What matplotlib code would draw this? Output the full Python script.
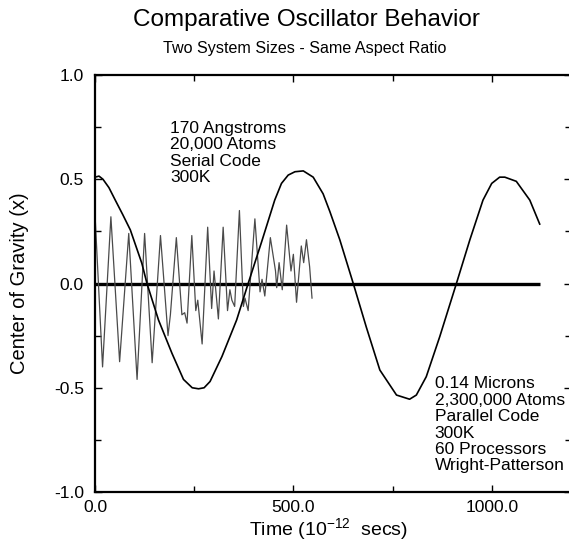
import matplotlib
matplotlib.use("Agg")
import matplotlib.pyplot as plt
from matplotlib.ticker import MultipleLocator, FormatStrFormatter

plt.rcParams['font.family'] = ['Liberation Sans', 'DejaVu Sans']
plt.rcParams['mathtext.fontset'] = 'custom'
plt.rcParams['mathtext.rm'] = 'Liberation Sans'
plt.rcParams['mathtext.default'] = 'regular'

# small system (170 A, serial code) - fast oscillation
small_t = [0, 19, 40, 62, 85, 106, 125, 144, 165, 184, 190, 205, 219, 226, 232,
           244, 254, 259, 270, 284, 294, 300, 311, 323, 334, 340, 345, 352, 364,
           374, 378, 386, 403, 416, 421, 428, 442, 455, 458, 464, 472, 483, 494,
           500, 508, 520, 526, 533, 541, 547]
small_x = [0.33, -0.40, 0.32, -0.375, 0.24, -0.46, 0.24, -0.38, 0.23, -0.25, -0.15,
           0.22, -0.15, -0.14, -0.19, 0.23, -0.13, -0.08, -0.29, 0.27, -0.12, 0.06,
           -0.17, 0.27, -0.13, -0.03, -0.08, -0.11, 0.35, -0.11, -0.07, -0.13, 0.31,
           -0.04, 0.02, -0.06, 0.22, 0.06, -0.02, 0.10, -0.03, 0.28, 0.06, 0.14,
           -0.09, 0.18, 0.10, 0.21, 0.08, -0.07]

# large system (0.14 microns, parallel code) - slow oscillation
large_t = [0, 10, 20, 35, 51, 70, 89, 118, 131, 160, 194, 223, 245, 261, 275, 290,
           320, 357, 386, 420, 453, 470, 487, 504, 525, 550, 575, 592, 617, 651,
           684, 718, 760, 793, 810, 835, 869, 911, 945, 978, 1000, 1020, 1033, 1062,
           1096, 1121]
large_x = [0.51, 0.515, 0.50, 0.46, 0.40, 0.33, 0.257, 0.097, 0.0, -0.175, -0.335,
           -0.46, -0.50, -0.505, -0.50, -0.47, -0.35, -0.175, 0.0, 0.20, 0.40, 0.48,
           0.52, 0.536, 0.54, 0.51, 0.43, 0.345, 0.21, 0.0, -0.21, -0.415, -0.535,
           -0.555, -0.535, -0.447, -0.255, 0.0, 0.21, 0.40, 0.48, 0.51, 0.51, 0.49,
           0.40, 0.285]

# baseline
zero_t = [0, 1121]
zero_x = [0, 0]

small_text = "170 Angstroms\n20,000 Atoms\nSerial Code\n300K"
large_text = "0.14 Microns\n2,300,000 Atoms\nParallel Code\n300K\n60 Processors\nWright-Patterson"

fig = plt.figure(figsize=(5.69, 5.43), dpi=100)
ax = fig.add_axes([0.167, 0.0939, 0.8366, 0.768])

ax.plot(zero_t, zero_x, color='black', lw=2.4, solid_capstyle='butt')
ax.plot(small_t, small_x, color='#4a4a4a', lw=0.9)
ax.plot(large_t, large_x, color='black', lw=1.2)

ax.set_xlim(0, 1200)
ax.set_ylim(-1.0, 1.0)
ax.xaxis.set_major_locator(MultipleLocator(500))
ax.xaxis.set_minor_locator(MultipleLocator(250))
ax.yaxis.set_major_locator(MultipleLocator(0.5))
ax.yaxis.set_minor_locator(MultipleLocator(0.25))
ax.xaxis.set_major_formatter(FormatStrFormatter('%.1f'))
ax.yaxis.set_major_formatter(FormatStrFormatter('%.1f'))
ax.tick_params(which='both', direction='in', top=True, right=True, width=1.0)
ax.tick_params(which='major', length=5, labelsize=12.6)
ax.tick_params(which='minor', length=4)
ax.tick_params(axis='x', pad=6)
ax.tick_params(axis='y', pad=8)
for s in ax.spines.values():
    s.set_linewidth(1.6)

ax.set_xlabel(r'Time (10$^{-12}$  secs)', fontsize=14)
ax.xaxis.label.set_va('center')
ax.xaxis.set_label_coords(0.49, -0.09)
ax.set_ylabel('Center of Gravity (x)', fontsize=14.5)
ax.yaxis.label.set_va('center')
ax.yaxis.set_label_coords(-0.158, 0.5)

ax.text(189, 0.78, small_text, fontsize=12.5, va='top', ha='left', linespacing=1.12)
ax.text(856, -0.445, large_text, fontsize=12.5, va='top', ha='left', linespacing=1.12)

fig.text(306 / 569, 1 - 20 / 543, 'Comparative Oscillator Behavior',
         fontsize=17.5, ha='center', va='center')
fig.text(305 / 569, 1 - 48 / 543, 'Two System Sizes - Same Aspect Ratio',
         fontsize=11.6, ha='center', va='center')

fig.savefig('out.png', dpi=100)
